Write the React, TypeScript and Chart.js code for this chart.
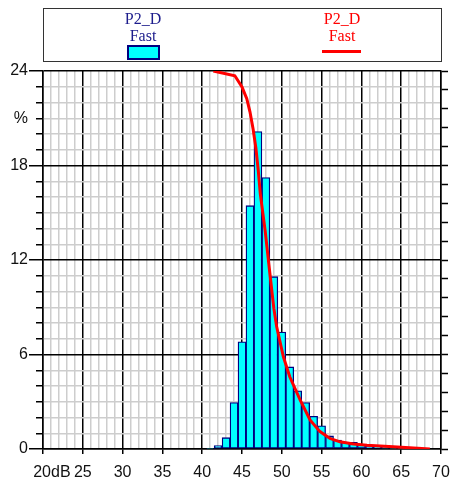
import React, { useEffect, useRef } from 'react';
import { Chart, registerables } from 'chart.js';

Chart.register(...registerables);

// Histogram: level class centre (dB) and percentage of time
const binLevels = [41, 42, 43, 44, 45, 46, 47, 48, 49, 50, 51, 52, 53, 54, 55, 56, 57, 58, 59, 60, 61, 62, 63, 64, 65, 66, 67, 68];
const binPercent = [0.05, 0.22, 0.72, 2.95, 6.81, 15.45, 20.15, 17.24, 10.94, 7.43, 5.21, 3.69, 2.95, 2.07, 1.47, 0.83, 0.57, 0.42, 0.42, 0.27, 0.19, 0.15, 0.1, 0.07, 0.05, 0.04, 0.03, 0.02];

// Cumulative (exceedance) curve, on the right-hand 0-100 % axis
const curveLevels = [41.4, 44.1, 45.0, 45.6, 46.0, 46.4, 46.75, 47.05, 47.3, 47.9, 48.5, 49.0, 49.35, 50.2, 51.0, 52.3, 53.55, 54.8, 56.05, 57.3, 59.0, 60.7, 64.0, 68.6];
const curvePercent = [100, 98.75, 95.75, 92.7, 89.2, 84.6, 79.5, 73.5, 67.5, 57.9, 46.5, 37.2, 32.4, 24.4, 19.1, 13.0, 7.7, 4.6, 2.8, 1.9, 1.3, 1.0, 0.6, 0.0];

const legendName = 'P2_D';
const legendWeighting = 'Fast';

const X_MIN = 20;
const X_MAX = 70;
const Y_MAX = 24;

export default function App() {
  const canvasRef = useRef<HTMLCanvasElement | null>(null);

  useEffect(() => {
    const canvas = canvasRef.current;
    if (!canvas) return;
    const sans = "'Liberation Sans', Arial, sans-serif";
    Chart.defaults.font.family = sans;

    const chart = new Chart(canvas, {
      type: 'bar',
      data: {
        datasets: [
          {
            type: 'line',
            label: legendName + ' ' + legendWeighting,
            data: curveLevels.map((x, i) => ({ x, y: curvePercent[i] })),
            xAxisID: 'x',
            yAxisID: 'y2',
            borderColor: '#ff0000',
            borderWidth: 3,
            pointRadius: 0,
            tension: 0,
            fill: false,
          } as any,
          {
            type: 'bar',
            label: legendName + ' ' + legendWeighting,
            data: binLevels.map((x, i) => ({ x, y: binPercent[i] })),
            xAxisID: 'x',
            yAxisID: 'y',
            backgroundColor: '#00ffff',
            borderColor: '#000080',
            borderWidth: 1.3,
            borderSkipped: false,
            barPercentage: 1,
            categoryPercentage: 1,
          } as any,
        ],
      },
      options: {
        responsive: false,
        animation: false,
        devicePixelRatio: 1,
        layout: { padding: { top: 71, left: 0, right: 0, bottom: 0 } },
        plugins: { legend: { display: false }, tooltip: { enabled: false } },
        scales: {
          x: {
            type: 'linear',
            min: X_MIN,
            max: X_MAX,
            offset: false,
            afterFit: (s: any) => { s.height = 32; s.paddingLeft = 0; s.paddingRight = 0; },
            ticks: {
              stepSize: 1,
              autoSkip: false,
              maxRotation: 0,
              minRotation: 0,
              padding: 9,
              color: '#111',
              font: { size: 16, family: sans },
              callback: (v: any) => {
                const n = Number(v);
                if (n === X_MIN) return '    ' + n + 'dB';
                return n % 5 === 0 ? String(n) : '';
              },
            },
            grid: {
              offset: false,
              color: (c: any) => (c.tick && c.tick.value % 5 === 0 ? '#000' : '#cdcdcd'),
              lineWidth: 1.5,
              tickColor: (c: any) => (c.tick && c.tick.value % 5 === 0 ? '#000' : 'rgba(0,0,0,0)'),
              tickLength: 5,
              tickWidth: 1.5,
            },
            border: { color: '#000', width: 1.5 },
          },
          y: {
            type: 'linear',
            position: 'left',
            min: 0,
            max: Y_MAX,
            afterFit: (s: any) => { s.width = 43; s.paddingTop = 0; s.paddingBottom = 0; },
            ticks: {
              stepSize: 1,
              autoSkip: false,
              padding: 1,
              color: '#111',
              font: { size: 16, family: sans },
              callback: (v: any) => {
                const n = Number(v);
                if (n % 6 === 0) return String(n);
                if (n === 21) return '%';
                return '';
              },
            },
            grid: {
              color: (c: any) => (c.tick && c.tick.value % 6 === 0 ? '#000' : '#cdcdcd'),
              lineWidth: 1.5,
              tickColor: '#000',
              tickWidth: 1.5,
              tickLength: 14,
              tickBorderDash: (c: any) => (c.tick && c.tick.value % 6 === 0 ? [] : [0, 7, 40, 0]),
            },
            border: { color: '#000', width: 1.5 },
          },
          y2: {
            type: 'linear',
            position: 'right',
            min: 0,
            max: 100,
            afterFit: (s: any) => { s.width = 11; s.paddingTop = 0; s.paddingBottom = 0; },
            ticks: { display: false, stepSize: 5 },
            grid: {
              drawOnChartArea: false,
              tickLength: 7,
              tickColor: '#000',
              tickWidth: 1.5,
            },
            border: { color: '#000', width: 1.5 },
          },
        },
      } as any,
    });
    return () => chart.destroy();
  }, []);

  const serif = "'Liberation Serif', 'Times New Roman', serif";
  const navy = '#1c1c8c';
  const textBase: React.CSSProperties = {
    position: 'absolute',
    width: 100,
    textAlign: 'center',
    fontFamily: serif,
    fontSize: 16,
    lineHeight: '16px',
    whiteSpace: 'nowrap',
  };

  return (
    <div style={{ position: 'absolute', left: 0, top: 0, width: 452, height: 481, background: '#fff' }}>
      <canvas
        ref={canvasRef}
        width={452}
        height={481}
        style={{ position: 'absolute', left: 0, top: 0, width: 452, height: 481 }}
      />
      <div
        style={{
          position: 'absolute',
          left: 43,
          top: 8,
          width: 399,
          height: 54,
          boxSizing: 'border-box',
          border: '1px solid #333',
        }}
      />
      <div style={{ ...textBase, left: 93, top: 11, color: navy }}>{legendName}</div>
      <div style={{ ...textBase, left: 93, top: 28, color: navy }}>{legendWeighting}</div>
      <div
        style={{
          position: 'absolute',
          left: 127,
          top: 45,
          width: 33,
          height: 15,
          boxSizing: 'border-box',
          background: '#00ffff',
          border: '2px solid #000080',
        }}
      />
      <div style={{ ...textBase, left: 292, top: 11, color: '#ff0000' }}>{legendName}</div>
      <div style={{ ...textBase, left: 292, top: 28, color: '#ff0000' }}>{legendWeighting}</div>
      <div style={{ position: 'absolute', left: 322, top: 50, width: 39, height: 3, background: '#ff0000' }} />
    </div>
  );
}
